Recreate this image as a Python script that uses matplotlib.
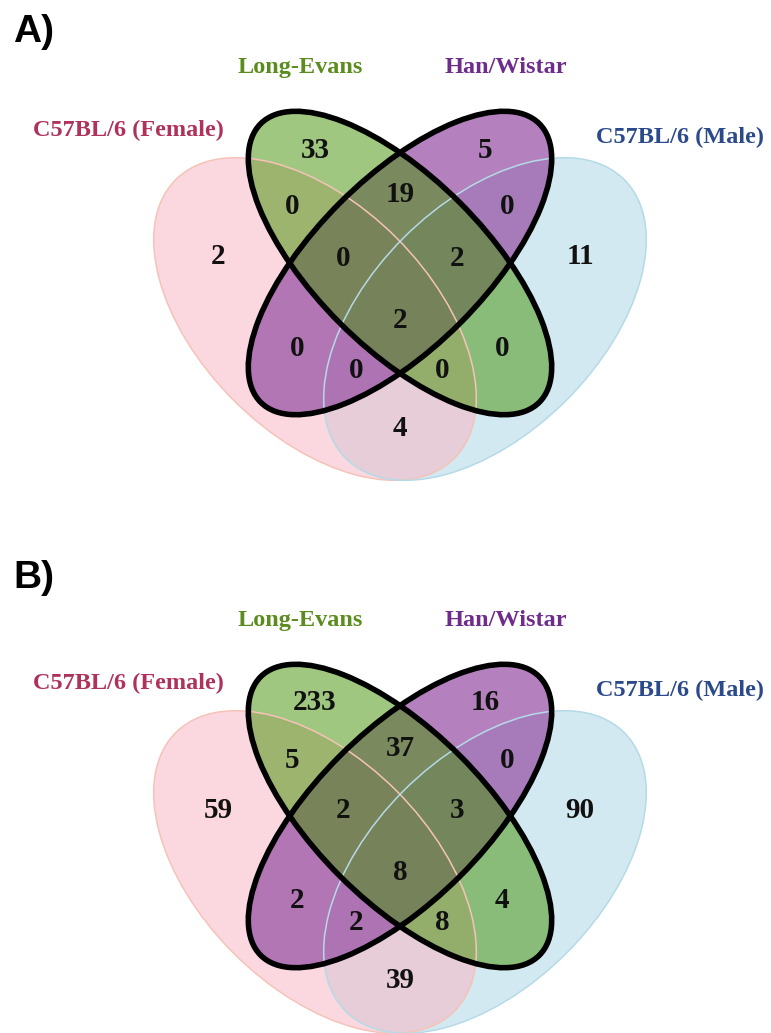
import matplotlib
matplotlib.use("Agg")
import matplotlib.pyplot as plt
from matplotlib.patches import Ellipse

# strains and region counts (F=C57BL/6 Female, L=Long-Evans, H=Han/Wistar, M=C57BL/6 Male)
strains = ["C57BL/6 (Female)", "Long-Evans", "Han/Wistar", "C57BL/6 (Male)"]
regions = ["F", "L", "H", "M", "FL", "LH", "HM", "FLH", "LHM", "FLHM", "FH", "FHM", "FLM", "LM", "FM"]
counts_a = [2, 33, 5, 11, 0, 19, 0, 0, 2, 2, 0, 0, 0, 0, 4]
counts_b = [59, 233, 16, 90, 5, 37, 0, 2, 3, 8, 2, 2, 8, 4, 39]
panel_labels = ["A)", "B)"]

# layout, pixel offsets from the inner centre of each panel
label_pos = {
    "F": (-182, -6), "L": (-85, -113), "H": (85, -113), "M": (180, -6),
    "FL": (-108, -56), "LH": (0, -68), "HM": (107, -56),
    "FLH": (-57, -5), "LHM": (57, -5), "FLHM": (0, 57),
    "FH": (-103, 85), "FHM": (-44, 107), "FLM": (42, 107), "LM": (102, 85),
    "FM": (0, 165),
}
name_pos = [(-272, -127, "#AF325A"), (-100, -190, "#5B8C1E"),
            (106, -190, "#6E2C8C"), (280, -120, "#2B4A8B")]

fill_pink = (249 / 255, 179 / 255, 193 / 255)
fill_blue = (169 / 255, 213 / 255, 229 / 255)
fill_green = (65 / 255, 145 / 255, 0.0)
fill_purple = (151 / 255, 81 / 255, 165 / 255)

fig = plt.figure(figsize=(7.71, 10.33), dpi=100)
ax = fig.add_axes([0, 0, 1, 1])
ax.set_xlim(0, 771)
ax.set_ylim(1033, 0)
ax.axis("off")

serif = "Liberation Serif"


def draw_panel(cx, cy, counts, tag, tag_y):
    big_a = 197
    outer_b = 115
    inner_b = 85
    # outer sets
    ax.add_patch(Ellipse((cx + 85, cy + 56), 2 * big_a, 2 * outer_b, angle=-45,
                         facecolor=fill_blue, alpha=0.5, edgecolor="none"))
    ax.add_patch(Ellipse((cx - 85, cy + 56), 2 * big_a, 2 * outer_b, angle=45,
                         facecolor=fill_pink, alpha=0.5, edgecolor="none"))
    # inner sets
    ax.add_patch(Ellipse((cx, cy), 2 * big_a, 2 * inner_b, angle=-45,
                         facecolor=fill_purple, alpha=0.72, edgecolor="none"))
    ax.add_patch(Ellipse((cx, cy), 2 * big_a, 2 * inner_b, angle=45,
                         facecolor=fill_green, alpha=0.5, edgecolor="none"))
    # outlines
    ax.add_patch(Ellipse((cx - 85, cy + 56), 2 * big_a, 2 * outer_b, angle=45,
                         facecolor="none", edgecolor="#F5C3B8", lw=1.1))
    ax.add_patch(Ellipse((cx + 85, cy + 56), 2 * big_a, 2 * outer_b, angle=-45,
                         facecolor="none", edgecolor="#B5DAE7", lw=1.1))
    for ang in (45, -45):
        ax.add_patch(Ellipse((cx, cy), 2 * big_a, 2 * inner_b, angle=ang,
                             facecolor="none", edgecolor="black", lw=4))

    for reg, n in zip(regions, counts):
        dx, dy = label_pos[reg]
        ax.text(cx + dx, cy + dy, str(n), ha="center", va="center",
                fontsize=21, fontweight="bold", family=serif, color="#111111")

    for name, (dx, dy, col) in zip(strains, name_pos):
        ax.text(cx + dx, cy + dy, name, ha="center", va="baseline",
                fontsize=17.5, fontweight="bold", family=serif, color=col)

    ax.text(13, tag_y, tag, ha="left", va="baseline", fontsize=28,
            fontweight="bold", family="Liberation Sans", color="black")


draw_panel(400, 263, counts_a, panel_labels[0], 42)
draw_panel(400, 816, counts_b, panel_labels[1], 588)

fig.savefig("out.png", dpi=100, facecolor="white")
